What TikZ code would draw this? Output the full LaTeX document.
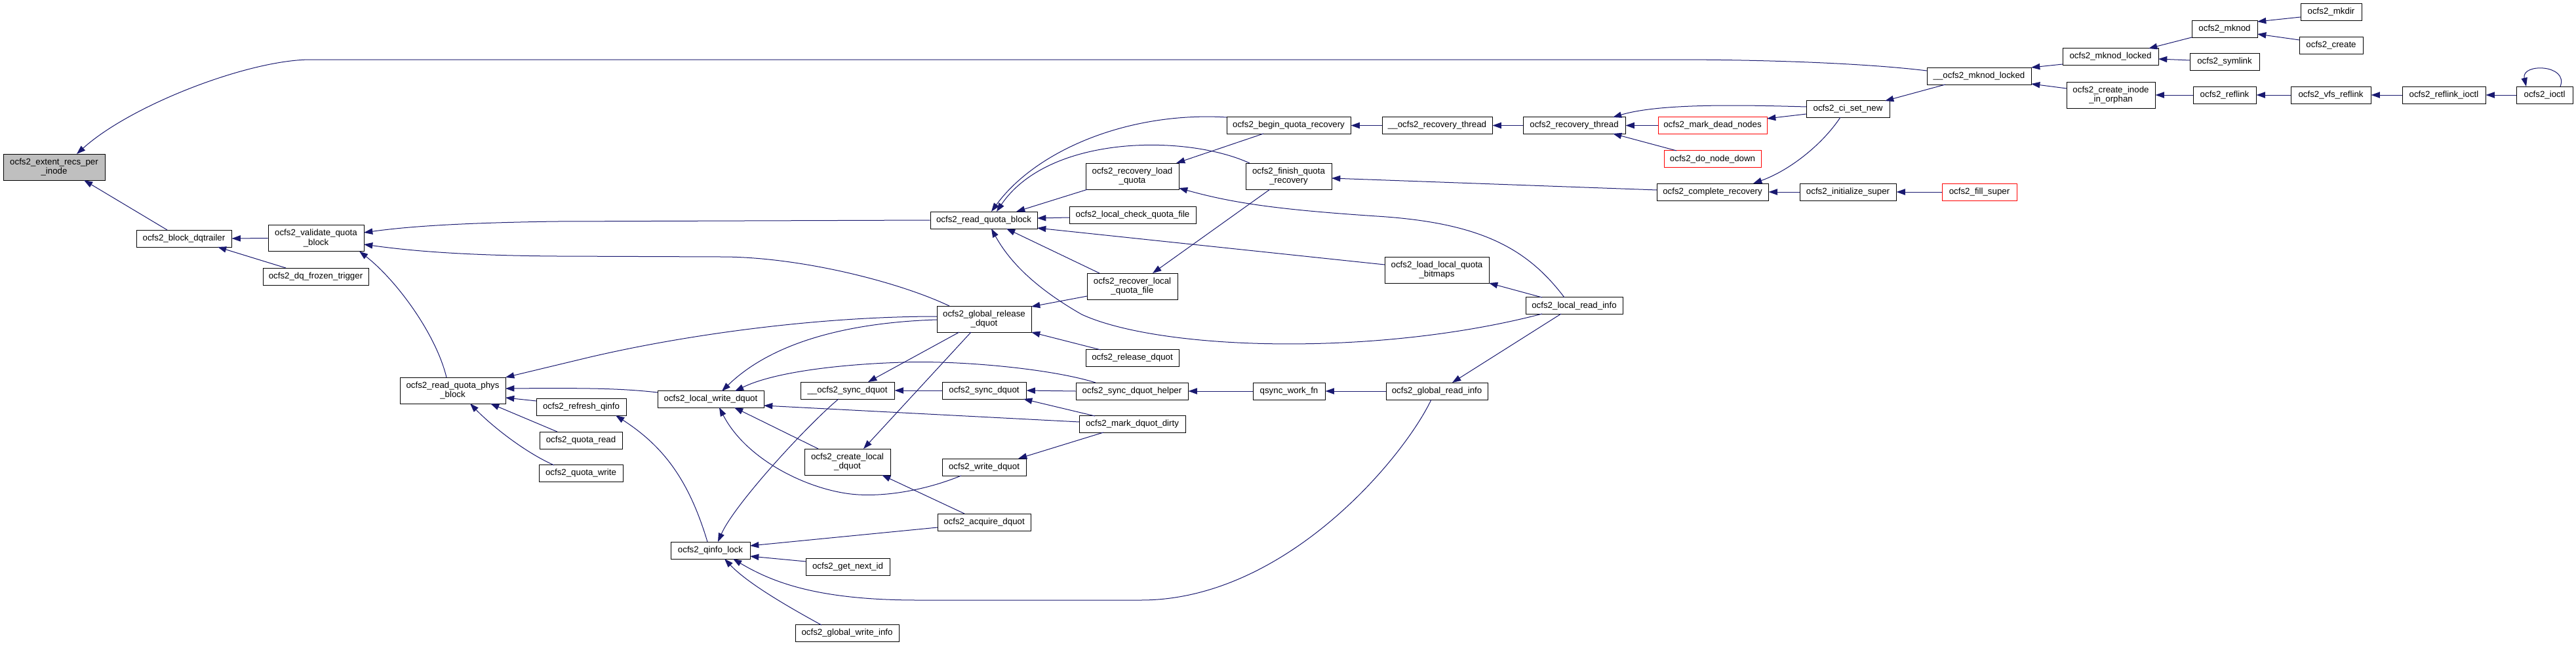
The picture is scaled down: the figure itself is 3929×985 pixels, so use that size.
\documentclass[tikz,border=0pt]{standalone}
\usepackage{fontspec}
\setmainfont{Liberation Sans}
\usetikzlibrary{arrows.meta,calc}
\definecolor{edgecol}{HTML}{191970}
\definecolor{focusgray}{HTML}{BFBFBF}
\newcommand\nodefont{\fontsize{13.3}{14.5}\selectfont}
\tikzset{
  box/.style={draw=black, line width=1pt, fill=white, inner sep=0pt, align=center,
    font=\nodefont, minimum height=26pt},
  redbox/.style={box, draw=red},
  focusbox/.style={box, fill=focusgray},
  bw/.style={minimum width=#1pt},
  tall/.style={minimum height=40pt},
  edge/.style={draw=edgecol, line width=1pt, -{Triangle[length=13.3pt,width=9.3pt]}}
}
\begin{document}
\begin{tikzpicture}[x=1pt,y=-1pt]
\useasboundingbox[fill=white] (0,0) rectangle (3929,985);

% ---------- nodes ----------
\node[focusbox,bw=155,tall] (ext) at (82.5,255) {ocfs2\_extent\_recs\_per\\\_inode};
\node[box,bw=145] (dqt) at (280.5,364) {ocfs2\_block\_dqtrailer};
\node[box,bw=146,tall] (val) at (482,363.5) {ocfs2\_validate\_quota\\\_block};
\node[box,bw=161] (dqf) at (481.5,422) {ocfs2\_dq\_frozen\_trigger};
\node[box,bw=161,tall] (rph) at (690.5,596) {ocfs2\_read\_quota\_phys\\\_block};
\node[box,bw=137] (ref) at (886.5,621) {ocfs2\_refresh\_qinfo};
\node[box,bw=126] (qrd) at (886,672) {ocfs2\_quota\_read};
\node[box,bw=128] (qwr) at (886,722.5) {ocfs2\_quota\_write};
\node[box,bw=162] (lwd) at (1084,609.5) {ocfs2\_local\_write\_dquot};
\node[box,bw=121] (qil) at (1083.5,840) {ocfs2\_qinfo\_lock};
\node[box,bw=128] (gni) at (1293,865.5) {ocfs2\_get\_next\_id};
\node[box,bw=158] (gwi) at (1292,966.5) {ocfs2\_global\_write\_info};
\node[box,bw=143] (usd) at (1292.5,596) {\_\_ocfs2\_sync\_dquot};
\node[box,bw=131,tall] (cld) at (1292.5,705) {ocfs2\_create\_local\\\_dquot};
\node[box,bw=163] (rqb) at (1500.5,336) {ocfs2\_read\_quota\_block};
\node[box,bw=144,tall] (grd) at (1501,487) {ocfs2\_global\_release\\\_dquot};
\node[box,bw=128] (sdq) at (1501,596) {ocfs2\_sync\_dquot};
\node[box,bw=128] (wdq) at (1501,713) {ocfs2\_write\_dquot};
\node[box,bw=142] (acq) at (1501,797) {ocfs2\_acquire\_dquot};
\node[box,bw=189] (bqr) at (1965.5,191.5) {ocfs2\_begin\_quota\_recovery};
\node[box,bw=142,tall] (rlq) at (1727,269) {ocfs2\_recovery\_load\\\_quota};
\node[box,bw=131,tall] (fqr) at (1965.5,269) {ocfs2\_finish\_quota\\\_recovery};
\node[box,bw=193] (lcq) at (1727.5,328) {ocfs2\_local\_check\_quota\_file};
\node[box,bw=138,tall] (rlf) at (1727,437) {ocfs2\_recover\_local\\\_quota\_file};
\node[box,bw=142] (rld) at (1727,546.5) {ocfs2\_release\_dquot};
\node[box,bw=171] (sdh) at (1726.5,597) {ocfs2\_sync\_dquot\_helper};
\node[box,bw=162] (mdd) at (1727,647.5) {ocfs2\_mark\_dquot\_dirty};
\node[box,bw=168] (urt) at (2192,191.5) {\_\_ocfs2\_recovery\_thread};
\node[box,bw=159,tall] (llb) at (2191.5,412) {ocfs2\_load\_local\_quota\\\_bitmaps};
\node[box,bw=110] (qwf) at (1966,597) {qsync\_work\_fn};
\node[box,bw=155] (gri) at (2191.5,597) {ocfs2\_global\_read\_info};
\node[box,bw=148] (lri) at (2401,466.5) {ocfs2\_local\_read\_info};
\node[box,bw=156] (rth) at (2401,191.5) {ocfs2\_recovery\_thread};
\node[redbox,bw=166] (mdn) at (2612,191.5) {ocfs2\_mark\_dead\_nodes};
\node[redbox,bw=148] (dnd) at (2612,242.5) {ocfs2\_do\_node\_down};
\node[box,bw=127] (csn) at (2818.5,166.5) {ocfs2\_ci\_set\_new};
\node[box,bw=170] (cre) at (2612,293) {ocfs2\_complete\_recovery};
\node[box,bw=147] (ins) at (2818.5,293) {ocfs2\_initialize\_super};
\node[redbox,bw=114] (fsu) at (3019,293) {ocfs2\_fill\_super};
\node[box,bw=159] (uml) at (3018.5,116) {\_\_ocfs2\_mknod\_locked};
\node[box,bw=146] (mkl) at (3219,86.5) {ocfs2\_mknod\_locked};
\node[box,bw=135,tall] (cio) at (3219.5,145) {ocfs2\_create\_inode\\\_in\_orphan};
\node[box,bw=100] (mkn) at (3393,44) {ocfs2\_mknod};
\node[box,bw=106] (sym) at (3393,94.5) {ocfs2\_symlink};
\node[box,bw=93] (mkd) at (3555.5,18.5) {ocfs2\_mkdir};
\node[box,bw=97] (crt) at (3555.5,69.5) {ocfs2\_create};
\node[box,bw=96] (rfl) at (3393,145) {ocfs2\_reflink};
\node[box,bw=122] (vfs) at (3555,145) {ocfs2\_vfs\_reflink};
\node[box,bw=127] (rio) at (3727.5,145) {ocfs2\_reflink\_ioctl};
\node[box,bw=86] (ioc) at (3881,145) {ocfs2\_ioctl};

% ---------- edges ----------
\draw[edge] ($(uml)+(-79.5,-8)$) .. controls (2850,97) and (2700,91) .. (2550,91) -- (474,91)
  .. controls (380,91) and (200,160) .. ($(ext)+(34.5,-20)$);
\draw[edge] ($(dqt)+(-25.5,-13)$) -- ($(ext)+(45.5,20)$);
\draw[edge] (val.west) -- (dqt.east);
\draw[edge] ($(dqf)+(-45.5,-13)$) -- ($(dqt)+(51.5,13)$);
\draw[edge] (rqb.west) -- (850,338) .. controls (700,340) and (620,346) .. ($(val)+(73,-8.5)$);
\draw[edge] ($(grd)+(-53,-20)$) .. controls (1370,430) and (1220,392) .. (1100,392) -- (850,391)
  .. controls (700,390) and (620,382) .. ($(val)+(73,9.5)$);
\draw[edge] ($(rph)+(-9.5,-20)$) .. controls (665,510) and (605,428) .. ($(val)+(66,20)$);
\draw[edge] ($(grd)+(-72,-4)$) .. controls (1250,483) and (1050,510) .. (900,545) -- ($(rph)+(80.5,-20)$);
\draw[edge] ($(grd)+(-72,1)$) .. controls (1300,492) and (1180,520) .. ($(lwd)+(17,-12.5)$);
\draw[edge] ($(sdh)+(-55.5,-13)$) .. controls (1600,562) and (1460,550) .. (1377,553)
  .. controls (1280,556) and (1180,568) .. ($(lwd)+(37,-12.5)$);
\draw[edge] ($(lwd)+(-81,-10.5)$) .. controls (950,593) and (900,592) .. ($(rph)+(80.5,-3)$);
\draw[edge] ($(ref)+(-68.5,-9)$) -- ($(rph)+(80.5,11)$);
\draw[edge] ($(qrd)+(-36,-13)$) -- ($(rph)+(57.5,20)$);
\draw[edge] ($(qwr)+(-41,-12.5)$) .. controls (800,690) and (750,650) .. ($(rph)+(26.5,20)$);
\draw[edge] ($(qil)+(-4.5,-13)$) .. controls (1050,730) and (1010,680) .. ($(ref)+(52.5,13)$);
\draw[edge] ($(usd)+(-13.5,13)$) .. controls (1230,650) and (1120,770) .. ($(qil)+(11.5,-13)$);
\draw[edge] ($(cld)+(-44.5,-20)$) -- ($(lwd)+(36,12.5)$);
\draw[edge] ($(wdq)+(-35,13)$) .. controls (1420,745) and (1360,758) .. (1309,755)
  .. controls (1240,751) and (1140,705) .. ($(lwd)+(13,12.5)$);
\draw[edge] ($(grd)+(-38,20)$) -- ($(usd)+(31.5,-13)$);
\draw[edge] (sdq.west) -- (usd.east);
\draw[edge] ($(grd)+(-20,20)$) -- ($(cld)+(24.5,-20)$);
\draw[edge] ($(acq)+(-30,-13)$) -- ($(cld)+(52.5,20)$);
\draw[edge] ($(acq)+(-71,8)$) -- ($(qil)+(60.5,-7)$);
\draw[edge] ($(gni)+(-64,-8.5)$) -- ($(qil)+(60.5,9)$);
\draw[edge] ($(gri)+(-8.5,13)$) .. controls (2140,700) and (1960,916) .. (1740,916) -- (1400,916)
  .. controls (1250,916) and (1180,890) .. ($(qil)+(34.5,13)$);
\draw[edge] ($(gwi)+(-39,-12.5)$) .. controls (1200,925) and (1140,890) .. ($(qil)+(21.5,13)$);
\draw[edge] ($(mdd)+(-57,-12.5)$) -- ($(sdq)+(60,13)$);
\draw[edge] (sdh.west) -- (sdq.east);
\draw[edge] ($(mdd)+(-81,-3.5)$) -- ($(lwd)+(81,9.5)$);
\draw[edge] ($(mdd)+(-44,12.5)$) -- ($(wdq)+(52,-13)$);
\draw[edge] ($(rld)+(-48,-12.5)$) -- ($(grd)+(72,20)$);
\draw[edge] ($(rlf)+(-69,15)$) -- ($(grd)+(72,-19)$);
\draw[edge] ($(bqr)+(-94.5,-12.5)$) .. controls (1720,170) and (1580,230) .. ($(rqb)+(11.5,-13)$);
\draw[edge] ($(fqr)+(-59.5,-20)$) .. controls (1810,205) and (1600,205) .. ($(rqb)+(19.5,-13)$);
\draw[edge] ($(rlq)+(-68,20)$) -- ($(rqb)+(49.5,-13)$);
\draw[edge] ($(lcq)+(-96.5,4)$) -- ($(rqb)+(81.5,-3)$);
\draw[edge] ($(llb)+(-79.5,-8)$) -- ($(rqb)+(81.5,12)$);
\draw[edge] ($(rlf)+(-50,-20)$) -- ($(rqb)+(34.5,13)$);
\draw[edge] ($(lri)+(-49,12.5)$) .. controls (2100,545) and (1770,535) .. (1650,480)
  .. controls (1580,440) and (1540,400) .. ($(rqb)+(11.5,13)$);
\draw[edge] ($(bqr)+(-38.5,12.5)$) -- ($(rlq)+(67,-20)$);
\draw[edge] ($(lri)+(-15,-12.5)$) .. controls (2330,380) and (2260,340) .. (2100,330)
  .. controls (1950,320) and (1880,310) .. ($(rlq)+(71,18)$);
\draw[edge] ($(fqr)+(-28.5,20)$) -- ($(rlf)+(31,-20)$);
\draw[edge] ($(cre)+(-85,-3)$) -- ($(fqr)+(65.5,3)$);
\draw[edge] (urt.west) -- (bqr.east);
\draw[edge] (rth.west) -- (urt.east);
\draw[edge] ($(lri)+(-49,-12.5)$) -- ($(llb)+(79.5,20)$);
\draw[edge] ($(lri)+(-20,12.5)$) -- ($(gri)+(23.5,-13)$);
\draw[edge] (gri.west) -- (qwf.east);
\draw[edge] (qwf.west) -- (sdh.east);
\draw[edge] (mdn.west) -- (rth.east);
\draw[edge] ($(dnd)+(-55,-12.5)$) -- ($(rth)+(59,12.5)$);
\draw[edge] ($(csn)+(-63.5,-3.5)$) .. controls (2650,160) and (2530,158) .. ($(rth)+(59,-12.5)$);
\draw[edge] ($(csn)+(-63.5,7.5)$) -- ($(mdn)+(83,-10.5)$);
\draw[edge] ($(csn)+(-11.5,12.5)$) .. controls (2780,220) and (2730,260) .. ($(cre)+(62,-13)$);
\draw[edge] (ins.west) -- (cre.east);
\draw[edge] (fsu.west) -- (ins.east);
\draw[edge] ($(uml)+(-51.5,13)$) -- ($(csn)+(56.5,-12.5)$);
\draw[edge] ($(mkl)+(-73,11.5)$) -- ($(uml)+(79.5,-13)$);
\draw[edge] ($(cio)+(-67.5,-10)$) -- ($(uml)+(79.5,12)$);
\draw[edge] ($(mkn)+(-50,13)$) -- ($(mkl)+(58,-12.5)$);
\draw[edge] ($(sym)+(-53,-2.5)$) -- ($(mkl)+(73,3.5)$);
\draw[edge] ($(mkd)+(-46.5,7.5)$) -- ($(mkn)+(50,-11)$);
\draw[edge] ($(crt)+(-48.5,-8.5)$) -- ($(mkn)+(50,8)$);
\draw[edge] (rfl.west) -- (cio.east);
\draw[edge] (vfs.west) -- (rfl.east);
\draw[edge] (rio.west) -- (vfs.east);
\draw[edge] (ioc.west) -- (rio.east);
\draw[edge] ($(ioc)+(24,-13)$) .. controls (3918,98) and (3845,96) .. ($(ioc)+(-28,-13)$);
\end{tikzpicture}
\end{document}
